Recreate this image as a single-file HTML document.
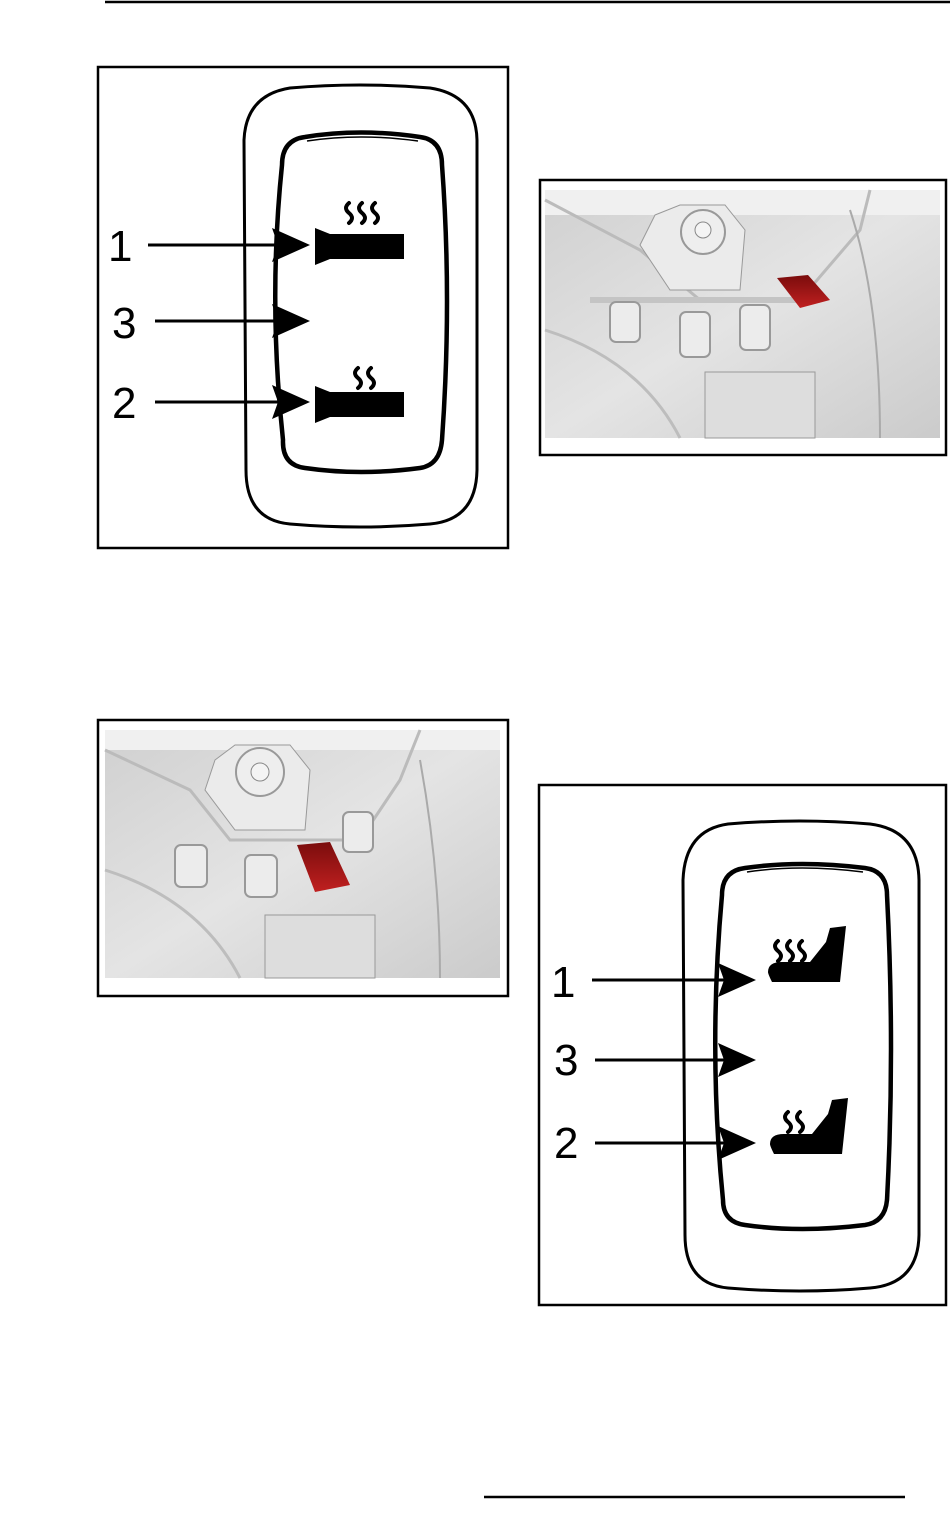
<!DOCTYPE html>
<html><head><meta charset="utf-8"><style>
html,body{margin:0;padding:0;background:#fff;}
svg{display:block;}
text{font-family:"Liberation Sans",sans-serif;font-size:44px;fill:#000;}
</style></head><body>
<svg width="950" height="1514" viewBox="0 0 950 1514" xmlns="http://www.w3.org/2000/svg">
<defs>
<linearGradient id="bg1" x1="0" y1="0" x2="1" y2="1">
<stop offset="0" stop-color="#d0d0d0"/><stop offset="0.5" stop-color="#e4e4e4"/><stop offset="1" stop-color="#cbcbcb"/>
</linearGradient>
<linearGradient id="red" x1="0" y1="0" x2="0" y2="1">
<stop offset="0" stop-color="#7a0c0c"/><stop offset="1" stop-color="#c02020"/>
</linearGradient>
<g id="wave"><path d="M0,0 q-6,5 0,10 q6,5 0,10" fill="none" stroke="#000" stroke-width="4" stroke-linecap="round"/></g>
<g id="arr"><polygon points="0,-17 38,0 0,17 6,0" fill="#000"/></g>
<g id="seat"><path d="M0,22 q0,-10 14,-10 l28,0 l16,-20 l4,-14 l16,-2 l-6,56 l-68,0 q-4,-8 -4,-10z" fill="#000"/></g>
</defs>

<line x1="105" y1="2" x2="950" y2="2" stroke="#000" stroke-width="2.5"/>
<line x1="484" y1="1497" x2="905" y2="1497" stroke="#000" stroke-width="2.5"/>

<!-- Box 1 -->
<rect x="98" y="67" width="410" height="481" fill="none" stroke="#000" stroke-width="2.5"/>
<path d="M290,88 Q360,82 430,88 Q476,95 477,140 L477,470 Q476,520 430,524 Q360,530 290,524 Q246,520 246,470 L244,140 Q246,95 290,88Z" fill="none" stroke="#000" stroke-width="3"/>
<path d="M305,137 Q360,128 420,137 Q442,140 442,165 Q452,300 442,440 Q440,465 420,468 Q360,476 305,468 Q282,465 283,440 Q268,300 282,165 Q282,140 305,137Z" fill="none" stroke="#000" stroke-width="4.5"/>
<path d="M307,141 Q360,133 418,141" fill="none" stroke="#000" stroke-width="1.5"/>
<polygon points="315,228 330,234 404,234 404,259 330,259 315,265" fill="#000"/>
<polygon points="315,386 330,392 404,392 404,417 330,417 315,423" fill="#000"/>
<use href="#wave" x="349" y="203"/><use href="#wave" x="362" y="203"/><use href="#wave" x="375" y="203"/>
<use href="#wave" x="358" y="368"/><use href="#wave" x="371" y="368"/>
<text x="108" y="261">1</text><text x="112" y="338">3</text><text x="112" y="418">2</text>
<line x1="148" y1="245" x2="280" y2="245" stroke="#000" stroke-width="3"/><use href="#arr" x="272" y="245"/>
<line x1="155" y1="321" x2="280" y2="321" stroke="#000" stroke-width="3"/><use href="#arr" x="272" y="321"/>
<line x1="155" y1="402" x2="280" y2="402" stroke="#000" stroke-width="3"/><use href="#arr" x="272" y="402"/>

<!-- Box 2 photo -->
<rect x="540" y="180" width="406" height="275" fill="#fff" stroke="#000" stroke-width="2.5"/>
<rect x="545" y="190" width="395" height="248" fill="url(#bg1)"/>
<rect x="545" y="190" width="395" height="25" fill="#f0f0f0"/>
<path d="M545,200 L640,250 L700,300 L800,300 L860,230 L870,190" fill="none" stroke="#bbb" stroke-width="3"/>
<path d="M590,300 L820,300" fill="none" stroke="#c4c4c4" stroke-width="6"/>
<path d="M850,210 Q880,300 880,438" fill="none" stroke="#aaa" stroke-width="2"/>
<path d="M545,330 Q640,360 680,438" fill="none" stroke="#bdbdbd" stroke-width="3"/>
<polygon points="655,215 680,205 725,205 745,230 740,290 670,290 640,245" fill="#ebebeb" stroke="#999"/>
<circle cx="703" cy="232" r="22" fill="#eee" stroke="#999" stroke-width="2"/><circle cx="703" cy="230" r="8" fill="#f4f4f4" stroke="#888"/>
<rect x="610" y="302" width="30" height="40" rx="6" fill="#ececec" stroke="#999" stroke-width="2"/>
<rect x="680" y="312" width="30" height="45" rx="6" fill="#ececec" stroke="#999" stroke-width="2"/>
<rect x="740" y="305" width="30" height="45" rx="6" fill="#ececec" stroke="#999" stroke-width="2"/>
<polygon points="777,278 808,275 830,300 800,308" fill="url(#red)"/>
<rect x="705" y="372" width="110" height="66" fill="#ddd" stroke="#999"/>

<!-- Box 3 photo -->
<rect x="98" y="720" width="410" height="276" fill="#fff" stroke="#000" stroke-width="2.5"/>
<rect x="105" y="730" width="395" height="248" fill="url(#bg1)"/>
<rect x="105" y="730" width="395" height="20" fill="#f0f0f0"/>
<path d="M105,750 L190,790 L230,840 L360,840 L400,780 L420,730" fill="none" stroke="#bbb" stroke-width="3"/>
<path d="M105,870 Q200,900 240,978" fill="none" stroke="#bdbdbd" stroke-width="3"/>
<path d="M420,760 Q440,870 440,978" fill="none" stroke="#aaa" stroke-width="2"/>
<polygon points="215,760 235,745 290,745 310,770 305,830 235,830 205,790" fill="#ebebeb" stroke="#999"/>
<circle cx="260" cy="772" r="24" fill="#eee" stroke="#999" stroke-width="2"/><circle cx="260" cy="772" r="9" fill="#f4f4f4" stroke="#888"/>
<rect x="175" y="845" width="32" height="42" rx="6" fill="#ececec" stroke="#999" stroke-width="2"/>
<rect x="245" y="855" width="32" height="42" rx="6" fill="#ececec" stroke="#999" stroke-width="2"/>
<rect x="343" y="812" width="30" height="40" rx="6" fill="#ececec" stroke="#999" stroke-width="2"/>
<polygon points="297,845 330,842 350,885 315,892" fill="url(#red)"/>
<rect x="265" y="915" width="110" height="63" fill="#ddd" stroke="#999"/>

<!-- Box 4 -->
<rect x="539" y="785" width="407" height="520" fill="none" stroke="#000" stroke-width="2.5"/>
<path d="M728,824 Q800,818 870,824 Q918,830 919,880 L919,1235 Q918,1284 870,1288 Q800,1294 728,1288 Q685,1284 685,1235 L683,880 Q685,830 728,824Z" fill="none" stroke="#000" stroke-width="3"/>
<path d="M745,868 Q800,860 865,868 Q887,871 887,895 Q895,1050 887,1200 Q885,1222 865,1225 Q800,1233 745,1225 Q723,1222 723,1200 Q708,1050 722,895 Q722,871 745,868Z" fill="none" stroke="#000" stroke-width="4.5"/>
<path d="M747,872 Q800,864 863,872" fill="none" stroke="#000" stroke-width="1.5"/>
<use href="#seat" x="768" y="950"/>
<use href="#seat" x="770" y="1122"/>
<use href="#wave" x="778" y="941"/><use href="#wave" x="790" y="941"/><use href="#wave" x="802" y="941"/>
<use href="#wave" x="788" y="1112"/><use href="#wave" x="800" y="1112"/>
<text x="551" y="997">1</text><text x="554" y="1075">3</text><text x="554" y="1158">2</text>
<line x1="592" y1="980" x2="724" y2="980" stroke="#000" stroke-width="3"/><use href="#arr" x="718" y="980"/>
<line x1="595" y1="1060" x2="724" y2="1060" stroke="#000" stroke-width="3"/><use href="#arr" x="718" y="1060"/>
<line x1="595" y1="1143" x2="724" y2="1143" stroke="#000" stroke-width="3"/><use href="#arr" x="718" y="1143"/>
</svg>
</body></html>
